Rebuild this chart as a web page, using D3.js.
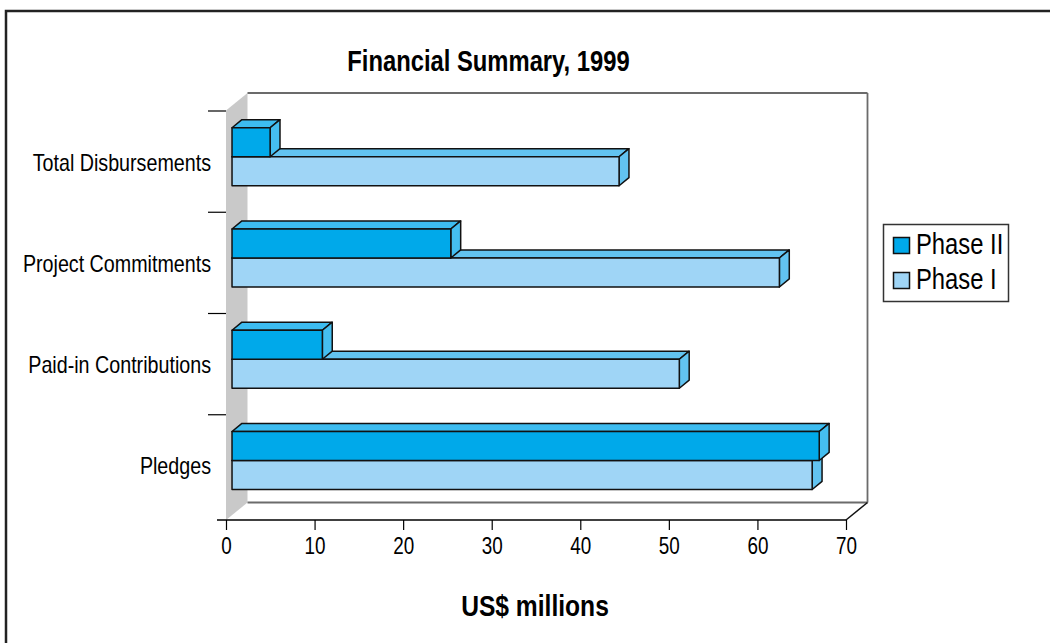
<!DOCTYPE html>
<html>
<head>
<meta charset="utf-8">
<script src="https://cdn.jsdelivr.net/npm/d3@7"></script>
<style>
  html, body { margin: 0; padding: 0; background: #fff; }
  svg { display: block; }
  text { font-family: "Liberation Sans", Arial, sans-serif; fill: #000; }
</style>
</head>
<body>
<svg id="chart" width="1050" height="643"></svg>
<script>
// ---- data ----
const categories = ["Total Disbursements", "Project Commitments", "Paid-in Contributions", "Pledges"];
const seriesNames = ["Phase II", "Phase I"];
const phase2 = [4.3, 24.7, 10.2, 66.3];
const phase1 = [43.7, 61.8, 50.5, 65.5];
const xTicks = [0, 10, 20, 30, 40, 50, 60, 70];
const titleText = "Financial Summary, 1999";
const xTitle = "US$ millions";

// ---- layout ----
const svg = d3.select("#chart");
const frontTop = 110.5, frontBottom = 520;
const DX = 21.5, DY = -17.5;       // depth offset of the back plane
const z0 = 0.28, z1 = 0.74;        // bar depth span
const barH = 29;
const x = d3.scaleLinear().domain([0, 70]).range([226, 846]);
const y = d3.scaleBand().domain(categories).range([111, 516]);
const P = (v, yy, z) => [x(v) + DX * z, yy + DY * z];

const colors = {
  "Phase II": { front: "#00a9ea", top: "#3dbcf0", side: "#45bef0" },
  "Phase I":  { front: "#9fd5f6", top: "#62c3f0", side: "#62c3f0" }
};

// condensed text helper (simulate a narrow face)
function narrow(sel, k) {
  sel.each(function () {
    const w = this.getComputedTextLength();
    d3.select(this).attr("textLength", w * k).attr("lengthAdjust", "spacingAndGlyphs");
  });
  return sel;
}

// outer frame
svg.append("rect").attr("x", 6).attr("y", 11).attr("width", 1100).attr("height", 700)
  .attr("fill", "none").attr("stroke", "#222").attr("stroke-width", 2.5);

// left wall
const wall = [[x(0), frontBottom], [x(0) + DX, frontBottom + DY], [x(0) + DX, frontTop + DY], [x(0), frontTop]];
svg.append("polygon").attr("points", wall.map(p => p.join(",")).join(" ")).attr("fill", "#c9c9c9");

// back plane lines
const gb = svg.append("g").attr("stroke", "#6b6b6b").attr("stroke-width", 1.8).attr("fill", "none");
gb.append("line").attr("x1", x(0) + DX).attr("y1", frontTop + DY).attr("x2", x(70) + DX).attr("y2", frontTop + DY);
gb.append("line").attr("x1", x(70) + DX).attr("y1", frontTop + DY).attr("x2", x(70) + DX).attr("y2", frontBottom + DY);
gb.append("line").attr("x1", x(0) + DX).attr("y1", frontBottom + DY).attr("x2", x(70) + DX).attr("y2", frontBottom + DY);
svg.append("line").attr("x1", x(70)).attr("y1", frontBottom).attr("x2", x(70) + DX).attr("y2", frontBottom + DY)
  .attr("stroke", "#111").attr("stroke-width", 1.5);

// x axis
const xAxis = d3.axisBottom(x).tickValues(xTicks).tickSize(10).tickPadding(8).tickSizeOuter(0);
const gx = svg.append("g").attr("transform", `translate(0,${frontBottom})`).call(xAxis);
gx.select(".domain").remove();
gx.append("line").attr("x1", 217).attr("x2", x(70)).attr("y1", 0).attr("y2", 0)
  .attr("stroke", "#000").attr("stroke-width", 1.5);
gx.selectAll(".tick line").attr("stroke", "#000").attr("stroke-width", 1.2);
gx.selectAll(".tick text").attr("font-size", 23).attr("fill", "#000")
  .style("font-family", '"Liberation Sans", Arial, sans-serif').call(narrow, 0.82);

// y ticks + labels
const gy = svg.append("g");
gy.selectAll("line.yt").data(categories).join("line").attr("class", "yt")
  .attr("x1", 208).attr("x2", x(0)).attr("y1", d => y(d)).attr("y2", d => y(d))
  .attr("stroke", "#000").attr("stroke-width", 1.2);
gy.selectAll("text.yl").data(categories).join("text").attr("class", "yl")
  .attr("x", 211).attr("y", d => y(d) + y.bandwidth() / 2 + 9)
  .attr("text-anchor", "end").attr("font-size", 24).text(d => d).call(narrow, 0.82);

// bars
function drawBar(g, v, yTop, c) {
  const yBot = yTop + barH;
  const poly = pts => pts.map(p => p.join(",")).join(" ");
  const add = (pts, fill) => g.append("polygon").attr("points", poly(pts)).attr("fill", fill)
    .attr("stroke", "#111").attr("stroke-width", 1.5).attr("stroke-linejoin", "round");
  add([P(0, yTop, z0), P(v, yTop, z0), P(v, yTop, z1), P(0, yTop, z1)], c.top);   // top face
  add([P(v, yTop, z0), P(v, yTop, z1), P(v, yBot, z1), P(v, yBot, z0)], c.side);  // side face
  add([P(0, yTop, z0), P(v, yTop, z0), P(v, yBot, z0), P(0, yBot, z0)], c.front); // front face
}
const gbars = svg.append("g");
categories.forEach((cat, i) => {
  const mid = y(cat) + y.bandwidth() / 2;
  const g = gbars.append("g");
  drawBar(g, phase1[i], mid, colors["Phase I"]);
  drawBar(g, phase2[i], mid - barH, colors["Phase II"]);
});

// titles
svg.append("text").attr("x", 488.5).attr("y", 71).attr("text-anchor", "middle")
  .attr("font-size", 29).attr("font-weight", "bold").text(titleText).call(narrow, 0.82);
svg.append("text").attr("x", 535).attr("y", 616).attr("text-anchor", "middle")
  .attr("font-size", 30).attr("font-weight", "bold").text(xTitle).call(narrow, 0.82);

// legend
const lg = svg.append("g");
lg.append("rect").attr("x", 883.5).attr("y", 224.5).attr("width", 125).attr("height", 77)
  .attr("fill", "#fff").attr("stroke", "#333").attr("stroke-width", 1.5);
seriesNames.forEach((s, i) => {
  lg.append("rect").attr("x", 893.5).attr("y", 237.5 + i * 35).attr("width", 16).attr("height", 16)
    .attr("fill", colors[s].front).attr("stroke", "#111").attr("stroke-width", 1.5);
  lg.append("text").attr("x", 916).attr("y", 254 + i * 35).attr("font-size", 29).text(s).call(narrow, 0.82);
});
</script>
</body>
</html>
